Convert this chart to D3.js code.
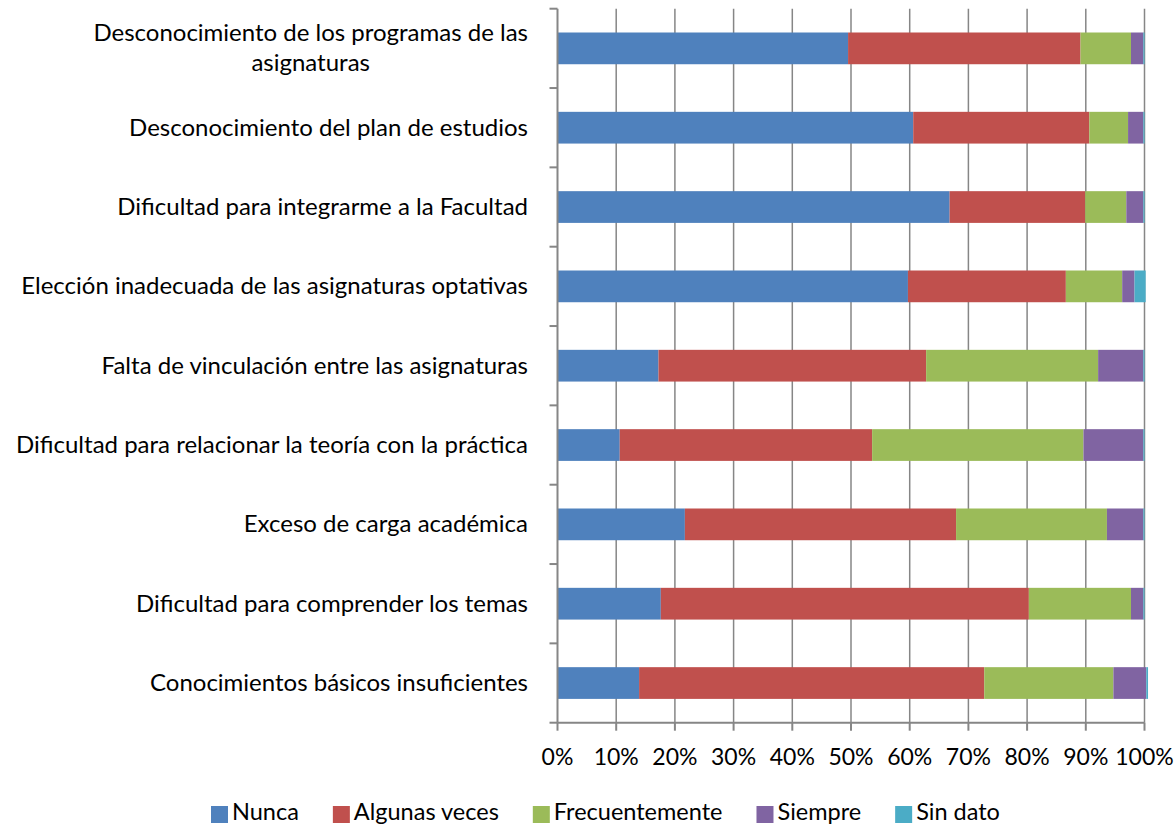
<!DOCTYPE html>
<html>
<head>
<meta charset="utf-8">
<script src="https://cdn.jsdelivr.net/npm/d3@7"></script>
<style>
  body { margin: 0; background: #fff; }
  text { font-family: Lato, "Open Sans", sans-serif; fill: #000; }
</style>
</head>
<body>
<script>
// Datos del gráfico (porcentajes por categoría)
const categorias = [
  "Desconocimiento de los programas de las\nasignaturas",
  "Desconocimiento del plan de estudios",
  "Dificultad para integrarme a la Facultad",
  "Elección inadecuada de las asignaturas optativas",
  "Falta de vinculación entre las asignaturas",
  "Dificultad para relacionar la teoría con la práctica",
  "Exceso de carga académica",
  "Dificultad para comprender los temas",
  "Conocimientos básicos insuficientes"
];
const series = ["Nunca", "Algunas veces", "Frecuentemente", "Siempre", "Sin dato"];
const nunca          = [49.5, 60.6, 66.8, 59.7, 17.2, 10.6, 21.7, 17.6, 13.9];
const algunasVeces   = [39.6, 30.0, 23.1, 26.9, 45.6, 43.0, 46.2, 62.7, 58.8];
const frecuentemente = [8.6, 6.6, 7.0, 9.6, 29.3, 36.0, 25.7, 17.4, 22.0];
const siempre        = [2.1, 2.6, 2.9, 2.1, 7.7, 10.2, 6.2, 2.1, 5.6];
const sinDato        = [0.2, 0.2, 0.2, 1.9, 0.2, 0.2, 0.2, 0.2, 0.3];
const ticks = [0, 10, 20, 30, 40, 50, 60, 70, 80, 90, 100];
const colores = ["#4F81BD", "#C0504D", "#9BBB59", "#8064A2", "#4BACC6"];

const valores = [nunca, algunasVeces, frecuentemente, siempre, sinDato];
const tabla = categorias.map((c, i) => {
  const fila = { cat: c };
  series.forEach((s, j) => fila[s] = valores[j][i]);
  return fila;
});

const width = 1176, height = 826;
const izq = 557.5, der = 1144.5, arriba = 8.7, abajo = 722.7;

const svg = d3.select("body").append("svg")
    .attr("width", width)
    .attr("height", height);

const x = d3.scaleLinear().domain([0, 100]).range([izq, der]);
const y = d3.scaleBand().domain(categorias).range([arriba, abajo]).paddingInner(0.6).paddingOuter(0.3);

const gris = "#868686";

// Líneas de cuadrícula verticales
svg.append("g").selectAll("line")
    .data(ticks.slice(1))
    .enter().append("line")
    .attr("x1", d => x(d)).attr("x2", d => x(d))
    .attr("y1", arriba).attr("y2", abajo)
    .attr("stroke", gris).attr("stroke-width", 1.5);

// Barras apiladas
const stack = d3.stack().keys(series)(tabla);
svg.append("g").selectAll("g")
    .data(stack)
    .enter().append("g")
    .attr("fill", (d, i) => colores[i])
    .selectAll("rect")
    .data(d => d)
    .enter().append("rect")
    .attr("x", d => x(d[0]))
    .attr("width", d => x(d[1]) - x(d[0]))
    .attr("y", d => y(d.data.cat))
    .attr("height", y.bandwidth());

// Eje Y
svg.append("line")
    .attr("x1", izq).attr("x2", izq)
    .attr("y1", arriba).attr("y2", abajo)
    .attr("stroke", gris).attr("stroke-width", 2);
const bordes = d3.range(categorias.length + 1).map(i => arriba + i * y.step());
svg.append("g").selectAll("line")
    .data(bordes)
    .enter().append("line")
    .attr("x1", izq - 8).attr("x2", izq)
    .attr("y1", d => d).attr("y2", d => d)
    .attr("stroke", gris).attr("stroke-width", 2);

// Eje X
svg.append("line")
    .attr("x1", izq).attr("x2", der)
    .attr("y1", abajo).attr("y2", abajo)
    .attr("stroke", gris).attr("stroke-width", 2);
svg.append("g").selectAll("line")
    .data(ticks)
    .enter().append("line")
    .attr("x1", d => x(d)).attr("x2", d => x(d))
    .attr("y1", abajo).attr("y2", abajo + 8)
    .attr("stroke", gris).attr("stroke-width", 2);
svg.append("g").selectAll("text")
    .data(ticks)
    .enter().append("text")
    .attr("x", d => x(d))
    .attr("y", 765)
    .attr("text-anchor", "middle")
    .style("font-size", "23px")
    .text(d => d + "%");

// Etiquetas de categorías
const etiquetas = svg.append("g").selectAll("text")
    .data(categorias)
    .enter().append("text")
    .style("font-size", "24px")
    .attr("text-anchor", "end");
etiquetas.each(function (d) {
  const lineas = d.split("\n");
  const t = d3.select(this);
  const cy = y(d) + y.bandwidth() / 2;
  const alto = 30;
  const y0 = cy - (lineas.length - 1) * alto / 2 + 8;
  if (lineas.length === 1) {
    t.attr("x", 528).attr("y", y0).text(d);
  } else {
    // bloque centrado, alineado a la derecha
    t.attr("text-anchor", "middle");
    const tmp = t.append("tspan").text(lineas[0]);
    const ancho = tmp.node().getComputedTextLength();
    tmp.remove();
    const cx = 528 - ancho / 2;
    lineas.forEach((l, i) => {
      t.append("tspan").attr("x", cx).attr("y", y0 + i * alto).text(l);
    });
  }
});

// Leyenda
const leyenda = svg.append("g").attr("transform", "translate(211, 812)");
let lx = 0;
series.forEach((s, i) => {
  leyenda.append("rect")
      .attr("x", lx).attr("y", -6)
      .attr("width", 17).attr("height", 17)
      .attr("fill", colores[i]);
  const t = leyenda.append("text")
      .attr("x", lx + 21).attr("y", 8)
      .style("font-size", "23.5px")
      .text(s);
  lx += 21 + t.node().getComputedTextLength() + 34;
});
</script>
</body>
</html>
